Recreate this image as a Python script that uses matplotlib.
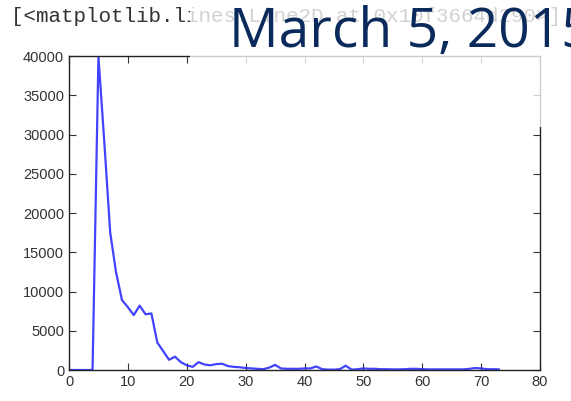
import matplotlib
matplotlib.use("Agg")
import matplotlib.pyplot as plt
from matplotlib.patches import Rectangle

# counts per bin
x = list(range(74))
counts = [0, 0, 0, 0, 0, 39900, 29000, 17500, 12400, 8900,
          8000, 7000, 8200, 7100, 7200, 3500, 2400, 1300, 1700, 1000,
          600, 400, 1000, 700, 600, 750, 800, 500, 400, 350,
          250, 200, 150, 100, 300, 650, 200, 150, 150, 150,
          200, 200, 450, 100, 50, 50, 100, 550, 50, 100,
          200, 150, 150, 100, 100, 80, 80, 100, 150, 150,
          100, 80, 80, 80, 80, 80, 80, 80, 150, 250,
          200, 100, 100, 80]

xticks = [0, 10, 20, 30, 40, 50, 60, 70, 80]
yticks = [0, 5000, 10000, 15000, 20000, 25000, 30000, 35000, 40000]

code_out = "[<matplotlib.lines.Line2D at 0x10f3664d290>]"
title = "March 5, 2015"

W, H = 571, 401
fig = plt.figure(figsize=(W / 100, H / 100), dpi=100)
fig.patch.set_facecolor("white")

ax = fig.add_axes([69 / W, 1 - 370 / H, (540 - 69) / W, (370 - 56) / H])
ax.plot(x, counts, color="#2222ff", lw=1.6, alpha=0.85)
ax.set_xlim(0, 80)
ax.set_ylim(0, 40000)
ax.set_xticks(xticks)
ax.set_yticks(yticks)
ax.tick_params(direction="in", length=5, width=0.8, top=True, right=True,
               labelsize=10.5, labelcolor="#333333", colors="#333333")
for lab in ax.get_xticklabels() + ax.get_yticklabels():
    lab.set_fontfamily("Liberation Sans")
for s in ax.spines.values():
    s.set_color("#222222")
    s.set_linewidth(1.0)

# notebook output line
fig.text(11 / W, 1 - 22 / H, code_out, family="Liberation Mono", fontsize=15,
         color="#333333", va="baseline", ha="left")

# semi-transparent slide title box over the top right
fig.patches.append(Rectangle((190 / W, 1 - 127 / H), 1, 127 / H,
                             transform=fig.transFigure, facecolor="white",
                             edgecolor="none", alpha=0.78, zorder=5))
fig.text(229 / W, 1 - 47 / H, title, family="Open Sans", fontsize=39.7,
         color="#0b2a5c", va="baseline", ha="left", zorder=6)

fig.savefig("out.png", dpi=100)
